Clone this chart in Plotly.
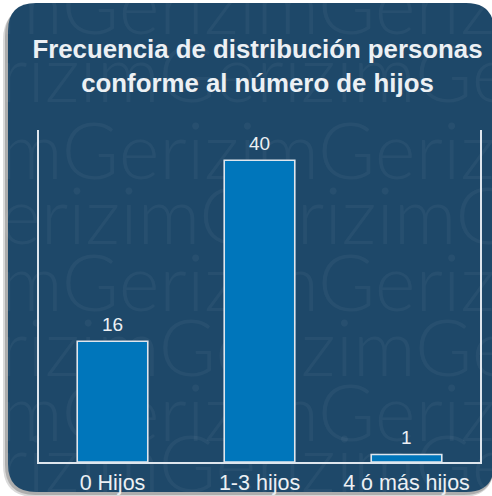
import plotly.graph_objects as go

# ---- data ----
categories = ["0 Hijos", "1-3 hijos", "4 ó más hijos"]
values = [16, 40, 1]
title_lines = ["Frecuencia de distribución personas", "conforme al número de hijos"]
watermark_word = "Gerizim"

# ---- geometry / style ----
W, H = 492, 496
PL, PR, PT, PB = 39, 480, 130, 462  # bar plot area in pixels
BG = "rgb(30,72,105)"
BAR = "rgb(0,118,187)"
EDGE = "rgb(222,230,238)"
TXT = "rgb(236,240,244)"
FONT = "Liberation Sans, Arial, sans-serif"


def fx(px):
    return px / W


def fy(py):
    return (H - py) / H


def rounded(x0, y0, x1, y1, r):
    pts = [
        ("M", [(x0 + r, y0)]),
        ("L", [(x1 - r, y0)]),
        ("Q", [(x1, y0), (x1, y0 + r)]),
        ("L", [(x1, y1 - r)]),
        ("Q", [(x1, y1), (x1 - r, y1)]),
        ("L", [(x0 + r, y1)]),
        ("Q", [(x0, y1), (x0, y1 - r)]),
        ("L", [(x0, y0 + r)]),
        ("Q", [(x0, y0), (x0 + r, y0)]),
    ]
    s = ""
    for cmd, pp in pts:
        s += cmd + " " + " ".join(f"{fx(a):.5f},{fy(b):.5f}" for a, b in pp) + " "
    return s + "Z"


fig = go.Figure()

# watermark rows (decorative background text, drawn in a full-page subplot under the bars)
wm_rows_y = [14, 82, 159, 224, 291, 356, 421, 472]
wm_rows_start = [6, 2, 6, 1, 6, 2, 6, 2]  # character offset into the repeated word
wm_text = [(watermark_word * 6)[s:] for s in wm_rows_start]
fig.add_trace(go.Scatter(
    x=[0] * len(wm_rows_y), y=wm_rows_y,
    mode="text",
    text=wm_text,
    textposition="middle right",
    textfont=dict(family="Lato, Open Sans, sans-serif", size=78, weight=300,
                  color="rgba(255,255,255,0.045)"),
    hoverinfo="skip", showlegend=False, cliponaxis=False,
    xaxis="x", yaxis="y",
))

fig.add_trace(go.Bar(
    x=categories, y=values,
    marker=dict(color=BAR, line=dict(color=EDGE, width=1.6)),
    width=0.48,
    hoverinfo="x+y", showlegend=False,
    xaxis="x2", yaxis="y2",
))

for c, v in zip(categories, values):
    fig.add_annotation(
        x=c, y=v, xref="x2", yref="y2", text=str(v),
        showarrow=False, yanchor="bottom", yshift=4,
        font=dict(family=FONT, size=19, color=TXT),
    )

fig.update_layout(
    width=W, height=H, autosize=False,
    margin=dict(l=0, r=0, t=0, b=0, pad=0, autoexpand=False),
    paper_bgcolor="white",
    plot_bgcolor="rgba(0,0,0,0)",
    title=dict(
        text="<b>" + "<br>".join(title_lines) + "</b>",
        x=257.5 / W, xref="container", xanchor="center",
        y=1 - 58 / H, yref="container", yanchor="middle",
        font=dict(family=FONT, size=25.8, color=TXT),
    ),
    xaxis=dict(domain=[0, 1], range=[0, W], visible=False, fixedrange=True,
               automargin=False),
    yaxis=dict(domain=[0, 1], range=[H, 0], visible=False, fixedrange=True,
               automargin=False),
    xaxis2=dict(domain=[PL / W, PR / W], anchor="y2", type="category",
                showgrid=False, zeroline=False, showline=True, linecolor=EDGE,
                linewidth=1.6, ticks="", ticklabelstandoff=0, automargin=False,
                tickfont=dict(family=FONT, size=21.5, color=TXT),
                fixedrange=True),
    yaxis2=dict(domain=[(H - PB) / H, (H - PT) / H], anchor="x2", range=[0, 44],
                showline=True, mirror=True, linecolor=EDGE, linewidth=1.6,
                showgrid=False, zeroline=False, showticklabels=False, ticks="",
                automargin=False, fixedrange=True),
    shapes=[
        dict(type="path", xref="paper", yref="paper", layer="below",
             path=rounded(3, 8, 494, 497, 32),
             fillcolor="rgba(0,0,0,0.15)", line=dict(width=0)),
        dict(type="path", xref="paper", yref="paper", layer="below",
             path=rounded(5, 6, 494, 495, 30),
             fillcolor="rgba(0,0,0,0.2)", line=dict(width=0)),
        dict(type="path", xref="paper", yref="paper", layer="below",
             path=rounded(8, 3, 494, 492, 28),
             fillcolor=BG, line=dict(width=0)),
    ],
)

fig.write_html(
    "out.html",
    config={"displayModeBar": False, "responsive": False},
    post_script=(
        "document.documentElement.style.margin='0px';"
        "document.documentElement.style.overflow='hidden';"
        "document.body.style.margin='0px';"
        "document.body.style.padding='0px';"
        "document.body.style.overflow='hidden';"
    ),
)
